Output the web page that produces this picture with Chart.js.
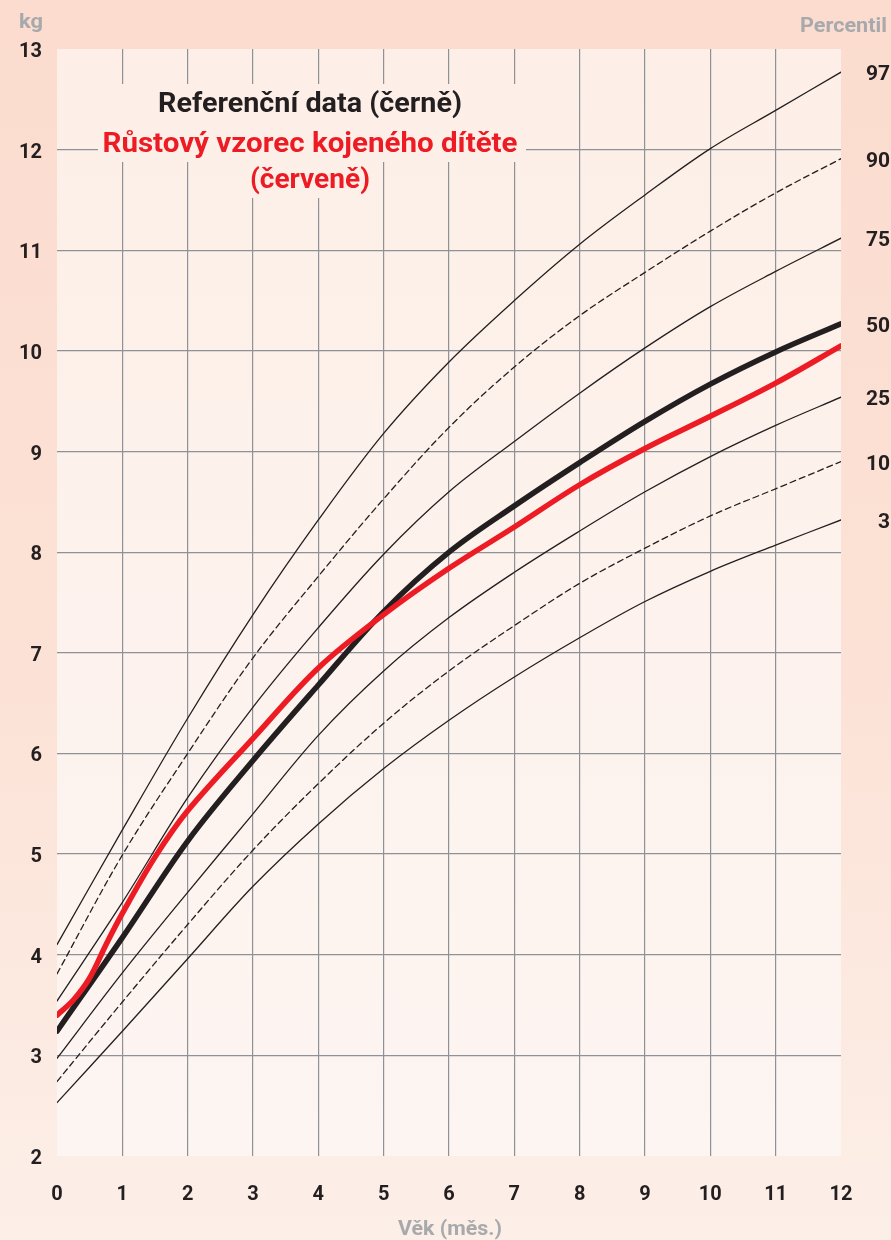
<!DOCTYPE html>
<html>
<head>
<meta charset="utf-8">
<script src="https://cdn.jsdelivr.net/npm/chart.js@4.4.1/dist/chart.umd.min.js"></script>
<style>
  html, body { margin: 0; padding: 0; }
  #wrap {
    width: 891px; height: 1240px; position: relative;
    background: linear-gradient(180deg, #fbdccf 0%, #fce2d6 55%, #fcefe8 100%);
  }
</style>
</head>
<body>
<div id="wrap"><canvas id="chart" width="891" height="1240"></canvas></div>
<script>
// --- Data (kg podle věku v měsících) ---
const months = [0, 1, 2, 3, 4, 5, 6, 7, 8, 9, 10, 11, 12];
const p97 = [4.10, 5.24, 6.35, 7.38, 8.32, 9.18, 9.89, 10.50, 11.06, 11.55, 12.01, 12.39, 12.77];
const p90 = [3.81, 4.99, 6.00, 6.95, 7.76, 8.53, 9.24, 9.84, 10.35, 10.78, 11.19, 11.57, 11.91];
const p75 = [3.54, 4.52, 5.56, 6.46, 7.25, 7.98, 8.60, 9.10, 9.58, 10.03, 10.44, 10.79, 11.12];
const p50 = [3.24, 4.17, 5.13, 5.93, 6.68, 7.41, 8.00, 8.46, 8.89, 9.30, 9.67, 9.99, 10.27];
const p25 = [2.97, 3.82, 4.62, 5.40, 6.18, 6.82, 7.35, 7.80, 8.21, 8.60, 8.95, 9.26, 9.54];
const p10 = [2.74, 3.53, 4.30, 5.04, 5.70, 6.30, 6.82, 7.27, 7.69, 8.04, 8.36, 8.63, 8.90];
const p3  = [2.53, 3.24, 3.96, 4.68, 5.30, 5.85, 6.33, 6.76, 7.15, 7.51, 7.81, 8.07, 8.32];

const breastMonths = [0, 0.25, 0.5, 0.75, 1, 1.5, 2, 3, 4, 5, 6, 7, 8, 9, 10, 11, 12];
const breastfed = [3.40, 3.55, 3.77, 4.10, 4.41, 4.97, 5.43, 6.15, 6.85, 7.38, 7.84, 8.25, 8.67, 9.03, 9.35, 9.68, 10.05];

const percentileNames = ['97', '90', '75', '50', '25', '10', '3'];
const percentileSeries = [p97, p90, p75, p50, p25, p10, p3];

const DARK = '#231f20';
const RED = '#ed1c24';
const GRAY_TEXT = '#a7a9ac';
const GRID = '#8e9196';

const toPoints = (xs, ys) => xs.map((x, i) => ({ x: x, y: ys[i] }));

function percentileDataset(name, values) {
    const isMedian = name === '50';
    const dashed = name === '90' || name === '10';
    return {
        label: 'P' + name,
        data: toPoints(months, values),
        borderColor: DARK,
        borderWidth: isMedian ? 5.5 : 1.3,
        borderDash: dashed ? [6, 4] : [],
        borderCapStyle: 'round',
        pointRadius: 0,
        tension: 0.35,
        fill: false
    };
}

function paperGradient(ctx, a) {
    const g = ctx.createLinearGradient(0, a.top, 0, a.bottom);
    g.addColorStop(0, '#fdefe7');
    g.addColorStop(1, '#fdf5f2');
    return g;
}

// --- Plugins ---
const paperPlugin = {
    id: 'paper',
    beforeDraw(chart) {
        const { ctx, chartArea: a } = chart;
        ctx.save();
        ctx.fillStyle = paperGradient(ctx, a);
        ctx.fillRect(a.left, a.top, a.right - a.left, a.bottom - a.top);
        ctx.restore();
    },
    beforeDatasetsDraw(chart) {
        // knockout behind the title so grid lines stop there
        const { ctx, chartArea: a } = chart;
        ctx.save();
        ctx.fillStyle = paperGradient(ctx, a);
        ctx.fillRect(98, 84, 428, 78);
        ctx.fillRect(243, 158, 134, 40);
        ctx.restore();
    }
};

function drawFit(ctx, text, cx, y, targetW, font, color, align) {
    ctx.save();
    ctx.font = font;
    ctx.fillStyle = color;
    ctx.textBaseline = 'alphabetic';
    const w = ctx.measureText(text).width;
    const sx = targetW / w;
    let left = cx - targetW / 2;
    if (align === 'right') left = cx - targetW;
    if (align === 'left') left = cx;
    ctx.translate(left, y);
    ctx.scale(sx, 1);
    ctx.textAlign = 'left';
    ctx.fillText(text, 0, 0);
    ctx.restore();
}

const labelsPlugin = {
    id: 'labels',
    afterDraw(chart) {
        const ctx = chart.ctx;
        const yScale = chart.scales.y;

        // title
        drawFit(ctx, 'Referenční data (černě)', 310, 112, 304, 'bold 28px Roboto', DARK);
        drawFit(ctx, 'Růstový vzorec kojeného dítěte', 310, 152, 415, 'bold 28px Roboto', RED);
        drawFit(ctx, '(červeně)', 310, 188, 120, 'bold 28px Roboto', RED);

        // axis captions
        drawFit(ctx, 'kg', 19, 28, 24, 'bold 20px Roboto', GRAY_TEXT, 'left');
        drawFit(ctx, 'Percentil', 887, 32, 87, 'bold 21px Roboto', GRAY_TEXT, 'right');
        drawFit(ctx, 'Věk (měs.)', 450, 1235, 104, 'bold 20px Roboto', GRAY_TEXT);

        // percentile names at the end of each curve
        ctx.save();
        ctx.font = 'bold 21px Roboto';
        ctx.fillStyle = DARK;
        ctx.textAlign = 'right';
        ctx.textBaseline = 'middle';
        percentileNames.forEach((name, i) => {
            const vals = percentileSeries[i];
            const y = yScale.getPixelForValue(vals[vals.length - 1]);
            ctx.fillText(name, 890, y + 3);
        });
        ctx.restore();
    }
};

const edgeless = (lo, hi) => (c) => {
    if (!c.tick) return GRID;
    return (c.tick.value === lo || c.tick.value === hi) ? 'rgba(0,0,0,0)' : GRID;
};

// --- Chart ---
const datasets = [{
    label: 'Kojené dítě',
    data: toPoints(breastMonths, breastfed),
    borderColor: RED,
    borderWidth: 5.5,
    borderCapStyle: 'round',
    pointRadius: 0,
    tension: 0.35,
    fill: false
}];
percentileNames.forEach((n, i) => datasets.push(percentileDataset(n, percentileSeries[i])));

new Chart(document.getElementById('chart'), {
    type: 'line',
    data: { datasets: datasets },
    options: {
        responsive: false,
        animation: false,
        layout: { padding: { top: 49, right: 50, left: 0, bottom: 0 } },
        plugins: { legend: { display: false }, tooltip: { enabled: false } },
        scales: {
            x: {
                type: 'linear', min: 0, max: 12,
                afterFit(scale) { scale.height = 84; },
                border: { display: false },
                grid: { color: edgeless(0, 12), lineWidth: 1.2, drawTicks: false },
                ticks: { stepSize: 1, padding: 27, color: DARK, font: { family: 'Roboto', weight: 'bold', size: 20 } }
            },
            y: {
                type: 'linear', min: 2, max: 13,
                afterFit(scale) { scale.width = 57; },
                border: { display: false },
                grid: { color: edgeless(2, 13), lineWidth: 1.2, drawTicks: false },
                ticks: { stepSize: 1, padding: 15, labelOffset: 3, color: DARK, font: { family: 'Roboto', weight: 'bold', size: 20 } }
            }
        }
    },
    plugins: [paperPlugin, labelsPlugin]
});
</script>
</body>
</html>
